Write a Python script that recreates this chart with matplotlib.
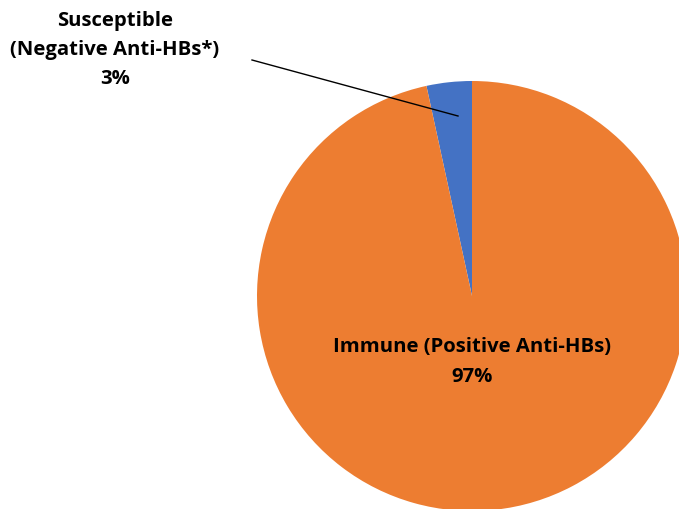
import matplotlib
matplotlib.use("Agg")
import matplotlib.pyplot as plt

# Slice shares (percent)
labels = ["Susceptible\n(Negative Anti-HBs*)", "Immune (Positive Anti-HBs)"]
shares = [3.4, 96.6]
shown_pct = ["3%", "97%"]
colors = ["#4472C4", "#ED7D31"]

W, H = 679, 510
fig = plt.figure(figsize=(W / 100, H / 100), dpi=100)
ax = fig.add_axes([0, 0, 1, 1])

cx, cy, r = 472, H - 297, 215
ax.pie(shares, colors=colors, startangle=90, counterclock=True,
       center=(cx, cy), radius=r, frame=True,
       wedgeprops=dict(linewidth=0))
ax.set_xlim(0, W)
ax.set_ylim(0, H)
ax.set_aspect("equal")
ax.axis("off")

font = dict(family=["Open Sans", "DejaVu Sans"], fontweight="bold",
            fontsize=14.6, color="#000000")

ax.text(115, H - 50, f"{labels[0]}\n{shown_pct[0]}", ha="center", va="center",
        linespacing=1.62, **font)
ax.plot([252, 458], [H - 61, H - 117], color="black", lw=1)

ax.text(472, H - 362, f"{labels[1]}\n{shown_pct[1]}", ha="center", va="center",
        linespacing=1.62, **font)

fig.savefig("out.png", dpi=100)
